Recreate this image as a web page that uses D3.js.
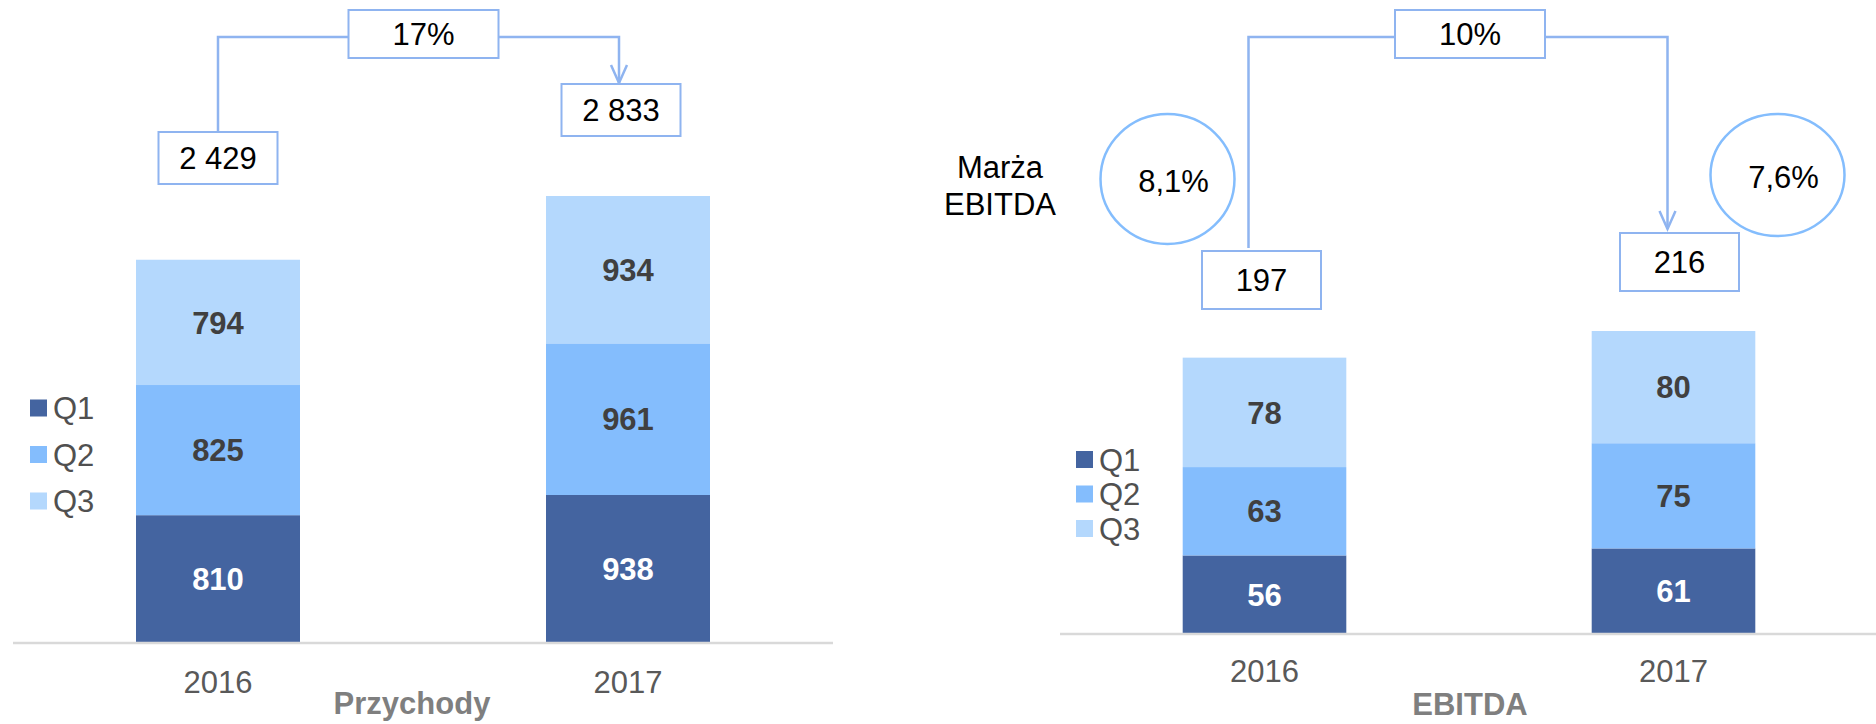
<!DOCTYPE html>
<html>
<head>
<meta charset="utf-8">
<script src="https://cdn.jsdelivr.net/npm/d3@7/dist/d3.min.js"></script>
<style>
  html, body { margin: 0; padding: 0; background: #fff; }
  svg { display: block; font-family: "Liberation Sans", Arial, sans-serif; }
</style>
</head>
<body>
<svg id="chart" width="1876" height="724"></svg>
<script>
// data
var years = ['2016', '2017'];
var quarters = ['Q1', 'Q2', 'Q3'];
var revenueQ1 = [810, 938];
var revenueQ2 = [825, 961];
var revenueQ3 = [794, 934];
var revenueTotals = ['2 429', '2 833'];
var revenueGrowth = '17%';
var ebitdaQ1 = [56, 61];
var ebitdaQ2 = [63, 75];
var ebitdaQ3 = [78, 80];
var ebitdaTotals = ['197', '216'];
var ebitdaGrowth = '10%';
var ebitdaMargin = ['8,1%', '7,6%'];

var colors = { Q1: '#4464a0', Q2: '#84bdfd', Q3: '#b4d8fd' };
var boxStroke = '#8fb4f0';

var svg = d3.select('#chart');

function rows(q1, q2, q3) {
    return years.map(function (y, i) {
        return { year: y, Q1: q1[i], Q2: q2[i], Q3: q3[i] };
    });
}

function labelBox(g, cx, top, w, h, text) {
    g.append('rect')
        .attr('x', cx - w / 2).attr('y', top)
        .attr('width', w).attr('height', h)
        .attr('fill', '#fff')
        .attr('stroke', boxStroke)
        .attr('stroke-width', 2);
    g.append('text')
        .attr('x', cx).attr('y', top + h / 2)
        .attr('dy', '0.36em')
        .attr('text-anchor', 'middle')
        .attr('font-size', 31)
        .attr('fill', '#000')
        .text(text);
}

function drawPanel(cfg) {
    var g = svg.append('g');
    var data = rows(cfg.q1, cfg.q2, cfg.q3);
    var series = d3.stack().keys(quarters)(data);

    var x = d3.scaleBand().domain(years)
        .range(cfg.xRange).paddingInner(0.6).paddingOuter(0.3);
    var y = d3.scaleLinear()
        .domain([0, d3.max(data, function (d) { return d.Q1 + d.Q2 + d.Q3; })])
        .range(cfg.yRange);

    // bars
    var layer = g.selectAll('g.layer').data(series).enter().append('g')
        .attr('fill', function (s) { return colors[s.key]; });
    layer.selectAll('rect').data(function (s) { return s; }).enter().append('rect')
        .attr('x', function (d) { return x(d.data.year); })
        .attr('width', x.bandwidth())
        .attr('y', function (d) { return y(d[1]); })
        .attr('height', function (d) { return y(d[0]) - y(d[1]); });

    // bar values
    series.forEach(function (s) {
        g.selectAll(null).data(s).enter().append('text')
            .attr('x', function (d) { return x(d.data.year) + x.bandwidth() / 2; })
            .attr('y', function (d) { return (y(d[0]) + y(d[1])) / 2; })
            .attr('dy', '0.36em')
            .attr('text-anchor', 'middle')
            .attr('font-size', 31)
            .attr('font-weight', 'bold')
            .attr('fill', s.key === 'Q1' ? '#fff' : '#404040')
            .text(function (d) { return d.data[s.key]; });
    });

    // axis
    var axis = g.append('g')
        .attr('transform', 'translate(0,' + y(0) + ')')
        .call(d3.axisBottom(x).tickSize(0).tickPadding(cfg.tickPad));
    axis.select('.domain')
        .attr('d', 'M' + cfg.axisExtent[0] + ',0H' + cfg.axisExtent[1])
        .attr('stroke', '#d9d9d9').attr('stroke-width', 2.5);
    axis.selectAll('.tick text')
        .attr('font-size', 31)
        .attr('font-family', '"Liberation Sans", Arial, sans-serif')
        .attr('fill', '#595959');

    g.append('text')
        .attr('x', cfg.titleX).attr('y', cfg.titleY)
        .attr('text-anchor', 'middle')
        .attr('font-size', 31).attr('font-weight', 'bold')
        .attr('fill', '#7f7f7f')
        .text(cfg.title);

    // legend
    var leg = g.selectAll('g.leg').data(quarters).enter().append('g')
        .attr('transform', function (d, i) {
            return 'translate(' + cfg.legendX + ',' + (cfg.legendY + i * cfg.legendStep) + ')';
        });
    leg.append('rect').attr('x', 0).attr('y', -8.5).attr('width', 17).attr('height', 17)
        .attr('fill', function (d) { return colors[d]; });
    leg.append('text').attr('x', 23).attr('dy', '0.36em')
        .attr('font-size', 31).attr('fill', '#505050')
        .text(function (d) { return d; });

    // growth connector
    var c0 = x(years[0]) + x.bandwidth() / 2 + cfg.connOff[0];
    var c1 = x(years[1]) + x.bandwidth() / 2 + cfg.connOff[1];
    var lineY = 37;
    g.append('path')
        .attr('d', 'M' + c0 + ',' + cfg.connEnd[0] + 'V' + lineY + 'H' + c1 + 'V' + cfg.connEnd[1])
        .attr('fill', 'none').attr('stroke', boxStroke).attr('stroke-width', 2.5);
    g.append('path')
        .attr('d', 'M' + (c1 - 8) + ',' + (cfg.connEnd[1] - 18) + 'L' + c1 + ',' + cfg.connEnd[1] +
            'L' + (c1 + 8) + ',' + (cfg.connEnd[1] - 18))
        .attr('fill', 'none').attr('stroke', boxStroke).attr('stroke-width', 2.5);

    labelBox(g, (c0 + c1) / 2 + cfg.growthOff, 10, 150, 48, cfg.growth);
    labelBox(g, x(years[0]) + x.bandwidth() / 2 + cfg.boxOff[0], cfg.boxTop[0], 119, cfg.boxH, cfg.totals[0]);
    labelBox(g, x(years[1]) + x.bandwidth() / 2 + cfg.boxOff[1], cfg.boxTop[1], 119, cfg.boxH, cfg.totals[1]);

    return { g: g, x: x, y: y };
}

drawPanel({
    q1: revenueQ1, q2: revenueQ2, q3: revenueQ3,
    totals: revenueTotals, growth: revenueGrowth,
    xRange: [13, 833], yRange: [643, 196], axisExtent: [13, 833],
    tickPad: 28, title: 'Przychody', titleX: 412, titleY: 714,
    legendX: 30, legendY: 408, legendStep: 46.5,
    connOff: [0, -9], connEnd: [132, 83], growthOff: 5,
    boxOff: [0, -7], boxTop: [132, 84], boxH: 52
});

var right = drawPanel({
    q1: ebitdaQ1, q2: ebitdaQ2, q3: ebitdaQ3,
    totals: ebitdaTotals, growth: ebitdaGrowth,
    xRange: [1060, 1878], yRange: [634, 331], axisExtent: [1060, 1876],
    tickPad: 26, title: 'EBITDA', titleX: 1470, titleY: 715,
    legendX: 1076, legendY: 459.5, legendStep: 34.5,
    connOff: [-16, -6], connEnd: [248, 229], growthOff: 12,
    boxOff: [-3, 6], boxTop: [251, 233], boxH: 58
});

// EBITDA margin
var rg = right.g;
rg.append('text').attr('x', 1000).attr('y', 167).attr('dy', '0.36em')
    .attr('text-anchor', 'middle').attr('font-size', 31).attr('fill', '#000').text('Marża');
rg.append('text').attr('x', 1000).attr('y', 204).attr('dy', '0.36em')
    .attr('text-anchor', 'middle').attr('font-size', 31).attr('fill', '#000').text('EBITDA');

var ellipses = [
    { cx: right.x(years[0]) + right.x.bandwidth() / 2 - 97, cy: 179, rx: 67, ry: 65 },
    { cx: right.x(years[1]) + right.x.bandwidth() / 2 + 104, cy: 175, rx: 67, ry: 61 }
];
rg.selectAll('ellipse.margin').data(ellipses).enter().append('ellipse')
    .attr('cx', function (d) { return d.cx; }).attr('cy', function (d) { return d.cy; })
    .attr('rx', function (d) { return d.rx; }).attr('ry', function (d) { return d.ry; })
    .attr('fill', 'none').attr('stroke', '#84bdfd').attr('stroke-width', 2.5);
rg.selectAll('text.margin').data(ellipses).enter().append('text')
    .attr('x', function (d) { return d.cx + 6; }).attr('y', function (d) { return d.cy + 2; })
    .attr('dy', '0.36em').attr('text-anchor', 'middle')
    .attr('font-size', 31).attr('fill', '#000')
    .text(function (d, i) { return ebitdaMargin[i]; });
</script>
</body>
</html>
